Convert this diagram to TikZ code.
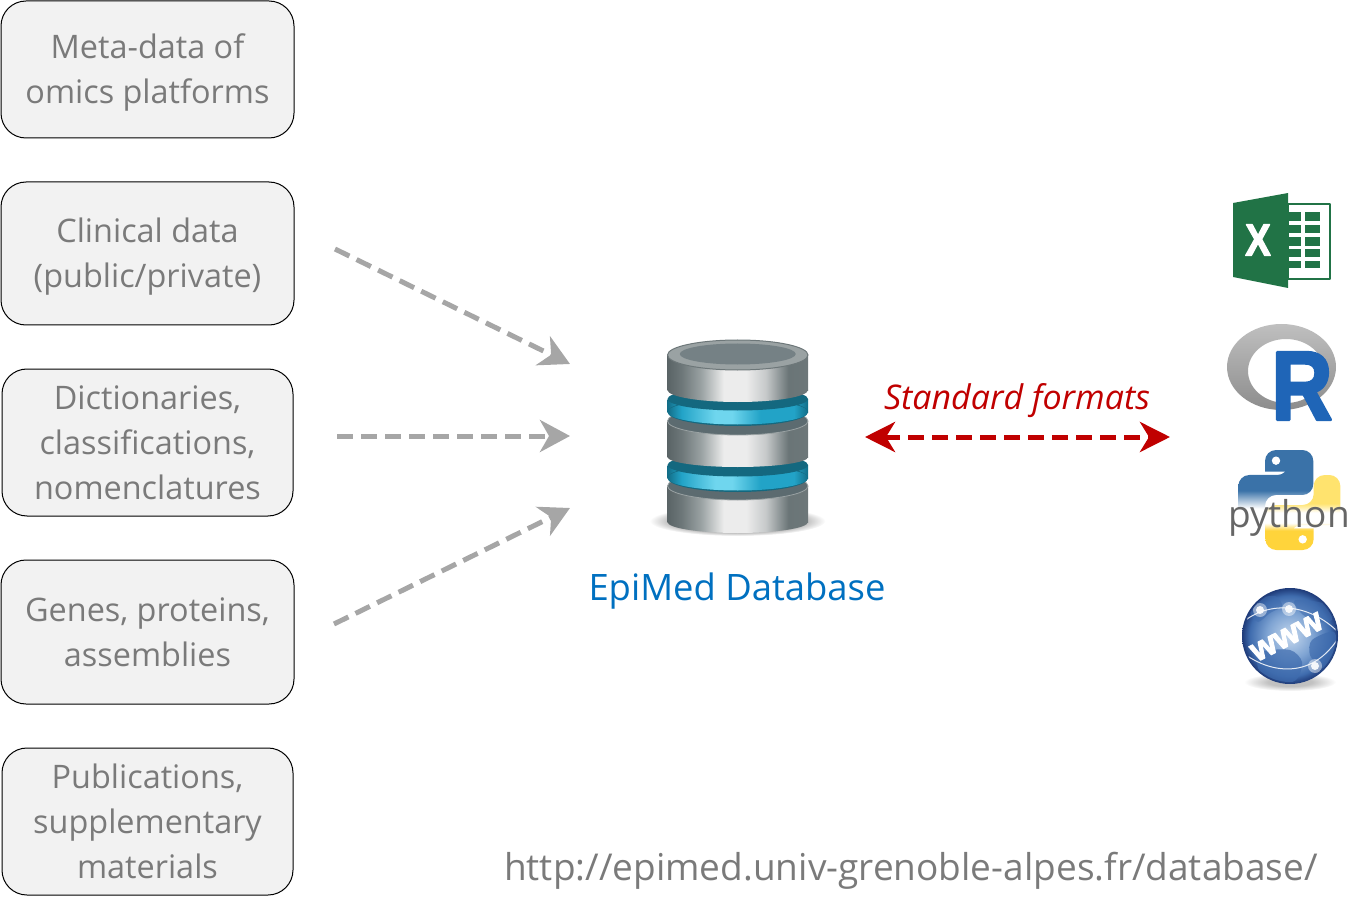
\documentclass[tikz,border=0pt]{standalone}
\usepackage{fontspec}
\setmainfont{Open Sans}
\newfontfamily\logofont{Liberation Sans}[BoldFeatures={FakeBold=3}]
\usetikzlibrary{arrows.meta}

\definecolor{boxfill}{HTML}{F2F2F2}
\definecolor{boxtext}{HTML}{7A7A7A}
\definecolor{arrowgray}{HTML}{A6A6A6}
\definecolor{formatred}{HTML}{C00000}
\definecolor{dbblue}{HTML}{0070C0}
\definecolor{stA}{HTML}{5A6466}
\definecolor{stB}{HTML}{6D7779}
\definecolor{stC}{HTML}{9AA2A3}
\definecolor{stD}{HTML}{ECECEC}
\definecolor{stE}{HTML}{C6C9CA}
\definecolor{stF}{HTML}{6A7577}
\definecolor{cyA}{HTML}{126E88}
\definecolor{cyB}{HTML}{22A3C7}
\definecolor{cyC}{HTML}{6FD6EE}
\definecolor{dbteal}{HTML}{14687F}
\definecolor{dbslate}{HTML}{5C6B70}
\definecolor{xlgreen}{HTML}{217346}
\definecolor{rblue}{HTML}{1F65B7}
\definecolor{pyblue}{HTML}{3A72A8}
\definecolor{pyyellow}{HTML}{FFD43B}
\definecolor{pypale}{HTML}{FFE36E}
\definecolor{globeA}{HTML}{C5D8EE}
\definecolor{globeB}{HTML}{7FA4D3}
\definecolor{globeC}{HTML}{3F6CAE}
\definecolor{globeD}{HTML}{1E3A78}

\pgfdeclarehorizontalshading{steel}{100bp}{color(0bp)=(stA);color(25bp)=(stA);color(30bp)=(stB);color(37bp)=(stC);color(45bp)=(stD);color(53bp)=(stD);color(60bp)=(stE);color(68bp)=(stF);color(75bp)=(stB);color(100bp)=(stB)}
\pgfdeclarehorizontalshading{ringcyan}{100bp}{color(0bp)=(cyA);color(25bp)=(cyA);color(30bp)=(cyB);color(42bp)=(cyC);color(48bp)=(cyC);color(58bp)=(cyB);color(70bp)=(cyB);color(75bp)=(cyA);color(100bp)=(cyA)}
\pgfdeclareverticalshading{pytop}{100bp}{color(0bp)=(white);color(36bp)=(white);color(48bp)=(pyblue);color(100bp)=(pyblue)}
\pgfdeclareverticalshading{pybottom}{100bp}{color(0bp)=(pyyellow);color(38bp)=(pyyellow);color(43bp)=(white);color(50bp)=(white);color(56bp)=(pypale);color(100bp)=(pypale)}
\pgfdeclareradialshading{softshadow}{\pgfpoint{0bp}{0bp}}{color(0bp)=(black!65);color(12bp)=(black!60);color(25bp)=(white);color(50bp)=(white)}
\pgfdeclareradialshading{globeball}{\pgfpoint{0bp}{0bp}}{color(0bp)=(globeA);color(12bp)=(globeB);color(21bp)=(globeC);color(25bp)=(globeD);color(50bp)=(globeD)}

\tikzset{
  sourcebox/.style={draw=black, fill=boxfill, rounded corners=25pt, line width=1pt,
    minimum width=293pt, inner sep=0pt, align=center, text=boxtext,
    execute at end node={\rule[-10pt]{0pt}{10pt}},
    font=\fontsize{32.4}{45}\selectfont},
  feedarrow/.style={draw=arrowgray, line width=5pt, dash pattern=on 16pt off 8pt,
    -{Stealth[length=30pt, width=32pt, inset=9pt]}},
  formatarrow/.style={draw=formatred, line width=5pt, dash pattern=on 16pt off 8pt,
    {Stealth[length=30pt, width=30pt, inset=9pt]}-{Stealth[length=30pt, width=30pt, inset=9pt]}},
  dbrim/.style={draw=stC, line width=.8pt, fill=dbslate},
}

\newcommand{\boxtop}{\rule{0pt}{34pt}}
\newcommand{\dbdisc}[3]{
  \shade[shading=steel] (667.5,#1) rectangle (808,#2);
  \shade[shading=steel] (737.75,#2) ellipse [x radius=70.25pt, y radius=#3pt];
  \path[dbrim] (737.75,#1) ellipse [x radius=70.25pt, y radius=14pt];
}
\newcommand{\dbring}[1]{
  \shade[shading=ringcyan] (667.5,#1) rectangle (808,#1+13);
  \fill[dbteal] (737.75,#1+13) ellipse [x radius=70.25pt, y radius=14pt];
  \shade[shading=ringcyan] (737.75,#1+13) ellipse [x radius=70.25pt, y radius=12.5pt];
  \fill[dbteal] (737.75,#1) ellipse [x radius=70.25pt, y radius=11.5pt];
}
\newcommand{\pysnake}[1]{
  \shade[shading=#1, rounded corners=11pt] (165,95) -- (165,30) -- (310,30) -- (310,165) -- (165,165) -- (165,255)
    -- (85,255) -- (85,105) -- (235,105) [sharp corners] -- (235,95) -- cycle;
}

\begin{document}
\begin{tikzpicture}[x=1pt, y=-1pt, line join=round]
  \useasboundingbox (0,0) rectangle (1363,917);

  \node[sourcebox, minimum height=137pt] (meta) at (147.5,69.5) {\boxtop Meta-data of\\omics platforms};
  \node[sourcebox, minimum height=143pt] (clinical) at (147.5,253.5) {\boxtop Clinical data\\(public/private)};
  \node[sourcebox, minimum height=147pt, minimum width=291pt] (dictionaries) at (147.5,442.5) {\boxtop Dictionaries,\\classifications,\\nomenclatures};
  \node[sourcebox, minimum height=144pt] (genes) at (147.5,632) {\boxtop Genes, proteins,\\assemblies};
  \node[sourcebox, minimum height=147pt, minimum width=291pt] (publications) at (147.5,821.5) {\boxtop Publications,\\supplementary\\materials};

  \coordinate (clinicalout) at (335,249);
  \coordinate (dictout) at (337,436);
  \coordinate (genesout) at (334,624);
  \coordinate (dbinA) at (570,364);
  \coordinate (dbinB) at (570,436);
  \coordinate (dbinC) at (570,508);
  \draw[feedarrow] (clinicalout) -- (dbinA);
  \draw[feedarrow] (dictout) -- (dbinB);
  \draw[feedarrow] (genesout) -- (dbinC);

  \shade[shading=softshadow] (737.5,521) ellipse [x radius=88pt, y radius=15pt];
  \dbdisc{486}{522}{11}
  \dbring{465}
  \dbdisc{421}{457}{10}
  \dbring{399}
  \shade[shading=steel] (667.5,355) rectangle (808,390);
  \shade[shading=steel] (737.75,390) ellipse [x radius=70.25pt, y radius=12pt];
  \path[draw=stB, line width=1pt, fill=stC] (737.75,355) ellipse [x radius=70.25pt, y radius=15pt];
  \fill[dbslate!85!white] (737.75,354) ellipse [x radius=58pt, y radius=10.5pt];

  \node[text=dbblue, font=\fontsize{36.4}{40}\selectfont] (dblabel) at (737,591) {EpiMed Database};
  \node[text=formatred, font=\fontsize{34}{40}\selectfont\itshape] (formats) at (1017,401) {Standard formats};
  \coordinate (fmtleft) at (865,437);
  \coordinate (fmtright) at (1170,437);
  \draw[formatarrow] (fmtleft) -- (fmtright);
  \node[text=boxtext, font=\fontsize{37}{44}\selectfont] (url) at (911,871) {http://epimed.univ-grenoble-alpes.fr/database/};

  \fill[white] (1288,204) rectangle (1330,279);
  \draw[xlgreen, line width=2.5pt] (1288,204) rectangle (1330,279);
  \foreach \ya/\yb in {212.5/221.5, 225/233.5, 237/246, 249/257.5, 261/268} {
    \fill[xlgreen] (1288,\ya) rectangle (1301,\yb);
    \fill[xlgreen] (1305,\ya) rectangle (1320,\yb);
  }
  \fill[xlgreen] (1233,203) -- (1288,193) -- (1288,288) -- (1233,277) -- cycle;
  \node[text=white, xscale=.85, font=\fontsize{45}{50}\selectfont\logofont\bfseries] (excelx) at (1258,240) {X};

  \shade[top color=black!25, bottom color=black!45, even odd rule]
    (1281.5,367) ellipse [x radius=54.5pt, y radius=43pt]
    (1286,371) ellipse [x radius=38pt, y radius=32pt];
  \node[text=rblue, xscale=.86, font=\fontsize{98}{100}\selectfont\logofont\bfseries] (rletter) at (1302,386) {R};

  \begin{scope}[shift={(1210,440)}, x=.3333pt, y=-.3333pt]
    \pysnake{pytop}
    \fill[white] (198,62) circle [radius=4.2pt];
  \end{scope}
  \begin{scope}[shift={(1368.67,560)}, x=-.3333pt, y=.3333pt]
    \pysnake{pybottom}
    \fill[white] (198,62) circle [radius=4.2pt];
  \end{scope}
  \node[text=black!60, font=\fontsize{37}{40}\selectfont] (pythonword) at (1289,518) {python};

  \shade[shading=softshadow, opacity=.4] (1290,682) ellipse [x radius=46pt, y radius=9pt];
  \shade[shading=globeball] (1290,636) circle [radius=48pt];
  \begin{scope}
    \clip (1290,636) circle [radius=46pt];
    \fill[globeC, opacity=.55] plot[smooth cycle] coordinates {(1255,600) (1275,596) (1282,606) (1270,613) (1258,622) (1250,612)};
    \fill[globeC, opacity=.55] plot[smooth cycle] coordinates {(1295,600) (1325,604) (1332,620) (1315,622) (1300,612)};
    \fill[globeC, opacity=.7] plot[smooth cycle] coordinates {(1262,652) (1290,650) (1302,662) (1296,680) (1275,684) (1258,668)};
    \fill[globeC, opacity=.7] plot[smooth cycle] coordinates {(1312,640) (1334,632) (1336,655) (1322,668) (1310,655)};
    \draw[white, line width=1pt, opacity=.85] (1243,622) .. controls (1270,600) and (1310,604) .. (1338,632);
    \draw[white, line width=1pt, opacity=.85] (1246,655) .. controls (1270,672) and (1310,680) .. (1337,640);
    \foreach \gx/\gy in {1260/610, 1289/609, 1315/666} {
      \fill[white, opacity=.45] (\gx,\gy) circle [radius=7pt];
      \fill[white, opacity=.9] (\gx,\gy) circle [radius=4pt];
    }
  \end{scope}
  \node[text=white, rotate=27, font=\fontsize{33}{36}\selectfont\logofont\bfseries] (wwwtext) at (1287,637) {www};
\end{tikzpicture}
\end{document}
